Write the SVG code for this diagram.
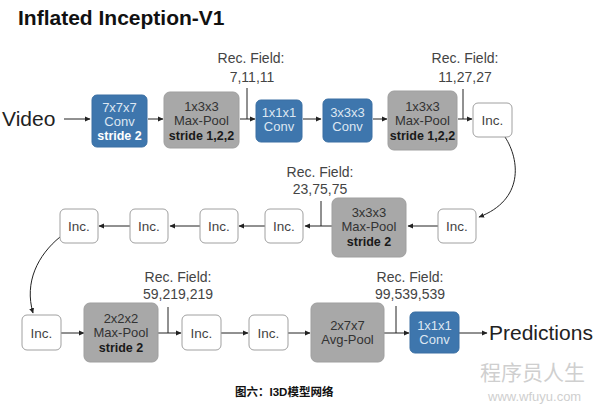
<svg xmlns="http://www.w3.org/2000/svg" width="600" height="407" viewBox="0 0 600 407">
<defs>
<marker id="ah" markerWidth="6" markerHeight="6" refX="5" refY="3" orient="auto" markerUnits="userSpaceOnUse">
<path d="M0,0.5 L5.5,3 L0,5.5 Z" fill="#222"/>
</marker>
<style>
text{font-family:"Liberation Sans",Arial,sans-serif}
.blue{fill:#3e76ad;stroke:#3a6fa3;stroke-width:1}
.gray{fill:#a8a8a8;stroke:#9f9f9f;stroke-width:1}
.inc{fill:#fff;stroke:#a0a0a0;stroke-width:1}
.bt{fill:#dde7f2;font-size:13px;text-anchor:middle}
.bb{fill:#fff;font-size:12.5px;font-weight:bold;text-anchor:middle}
.gt{fill:#333;font-size:13px;text-anchor:middle}
.gb{fill:#1a1a1a;font-size:12.5px;font-weight:bold;text-anchor:middle}
.it{fill:#444;font-size:13.5px;text-anchor:middle}
.rf{fill:#444;font-size:14px;text-anchor:middle}
.ln{fill:none;stroke:#222;stroke-width:1}
.big{fill:#222;font-size:21px}
</style>
</defs>
<rect width="600" height="407" fill="#fff"/>
<text x="18" y="25" font-size="21" font-weight="bold" fill="#111" style="font-family:'Liberation Sans',Arial,sans-serif">Inflated Inception-V1</text>

<text class="big" x="2" y="126">Video</text>
<text class="big" x="489" y="340">Predictions</text>

<g id="connectors">
<line class="ln" x1="64" y1="119" x2="90" y2="119" marker-end="url(#ah)"/>
<line class="ln" x1="148" y1="119" x2="163" y2="119" marker-end="url(#ah)"/>
<line class="ln" x1="240" y1="119" x2="255" y2="119" marker-end="url(#ah)"/>
<line class="ln" x1="247" y1="88" x2="247" y2="119"/>
<line class="ln" x1="303" y1="119" x2="321" y2="119" marker-end="url(#ah)"/>
<line class="ln" x1="373" y1="119" x2="387" y2="119" marker-end="url(#ah)"/>
<line class="ln" x1="458" y1="119" x2="472" y2="119" marker-end="url(#ah)"/>
<line class="ln" x1="463" y1="89" x2="463" y2="119"/>
<path class="ln" d="M505,137 C520,160 524,200 479,217" marker-end="url(#ah)"/>
<line class="ln" x1="438" y1="226" x2="408" y2="226" marker-end="url(#ah)"/>
<line class="ln" x1="332" y1="226" x2="305" y2="226" marker-end="url(#ah)"/>
<line class="ln" x1="321" y1="201" x2="321" y2="226"/>
<line class="ln" x1="265" y1="226" x2="239" y2="226" marker-end="url(#ah)"/>
<line class="ln" x1="200" y1="226" x2="170" y2="226" marker-end="url(#ah)"/>
<line class="ln" x1="130" y1="226" x2="99" y2="226" marker-end="url(#ah)"/>
<path class="ln" d="M60,237 C38,255 24,282 33,313" marker-end="url(#ah)"/>
<line class="ln" x1="61" y1="333" x2="84" y2="333" marker-end="url(#ah)"/>
<line class="ln" x1="158" y1="333" x2="181" y2="333" marker-end="url(#ah)"/>
<line class="ln" x1="168" y1="307" x2="168" y2="333"/>
<line class="ln" x1="221" y1="333" x2="248" y2="333" marker-end="url(#ah)"/>
<line class="ln" x1="288" y1="333" x2="310" y2="333" marker-end="url(#ah)"/>
<line class="ln" x1="384" y1="333" x2="409" y2="333" marker-end="url(#ah)"/>
<line class="ln" x1="396" y1="306" x2="396" y2="333"/>
<line class="ln" x1="459" y1="333" x2="487" y2="333" marker-end="url(#ah)"/>
</g>

<g id="rf1"><text class="rf" x="251" y="63">Rec. Field:</text><text class="rf" x="252" y="82">7,11,11</text></g>
<g id="rf2"><text class="rf" x="465" y="63">Rec. Field:</text><text class="rf" x="465" y="82">11,27,27</text></g>
<g id="rf3"><text class="rf" x="320" y="177">Rec. Field:</text><text class="rf" x="320" y="194">23,75,75</text></g>
<g id="rf4"><text class="rf" x="178" y="282">Rec. Field:</text><text class="rf" x="178" y="299">59,219,219</text></g>
<g id="rf5"><text class="rf" x="410" y="282">Rec. Field:</text><text class="rf" x="410" y="299">99,539,539</text></g>

<g id="conv7"><rect class="blue" x="92" y="95" width="55" height="52" rx="5"/>
<text class="bt" x="119.5" y="112">7x7x7</text><text class="bt" x="119.5" y="125.5">Conv</text><text class="bb" x="119.5" y="139.5">stride 2</text></g>
<g id="pool1"><rect class="gray" x="164" y="92" width="75" height="56" rx="6"/>
<text class="gt" x="201.5" y="111">1x3x3</text><text class="gt" x="201.5" y="125">Max-Pool</text><text class="gb" x="201.5" y="139.5">stride 1,2,2</text></g>
<g id="conv1"><rect class="blue" x="256" y="100" width="46" height="42" rx="5"/>
<text class="bt" x="279" y="117">1x1x1</text><text class="bt" x="279" y="131">Conv</text></g>
<g id="conv3"><rect class="blue" x="323" y="99" width="49" height="43" rx="5"/>
<text class="bt" x="347.5" y="117">3x3x3</text><text class="bt" x="347.5" y="131">Conv</text></g>
<g id="pool2"><rect class="gray" x="388" y="91" width="69" height="59" rx="6"/>
<text class="gt" x="422.5" y="111">1x3x3</text><text class="gt" x="422.5" y="125">Max-Pool</text><text class="gb" x="422.5" y="140">stride 1,2,2</text></g>
<g id="inc1"><rect class="inc" x="473" y="103" width="39" height="34" rx="5"/><text class="it" x="492.5" y="125">Inc.</text></g>

<g id="inc2"><rect class="inc" x="438" y="209" width="38" height="34" rx="5"/><text class="it" x="457" y="231">Inc.</text></g>
<g id="pool3"><rect class="gray" x="332" y="198" width="74" height="59" rx="6"/>
<text class="gt" x="369" y="217">3x3x3</text><text class="gt" x="369" y="231">Max-Pool</text><text class="gb" x="369" y="246">stride 2</text></g>
<g id="inc3"><rect class="inc" x="265" y="209" width="38" height="34" rx="5"/><text class="it" x="284" y="231">Inc.</text></g>
<g id="inc4"><rect class="inc" x="200" y="209" width="38" height="34" rx="5"/><text class="it" x="219" y="231">Inc.</text></g>
<g id="inc5"><rect class="inc" x="130" y="209" width="38" height="34" rx="5"/><text class="it" x="149" y="231">Inc.</text></g>
<g id="inc6"><rect class="inc" x="60" y="209" width="38" height="34" rx="5"/><text class="it" x="79" y="231">Inc.</text></g>

<g id="inc7"><rect class="inc" x="22" y="315" width="39" height="35" rx="5"/><text class="it" x="41.5" y="338">Inc.</text></g>
<g id="pool4"><rect class="gray" x="84" y="303" width="74" height="59" rx="6"/>
<text class="gt" x="121" y="323">2x2x2</text><text class="gt" x="121" y="337">Max-Pool</text><text class="gb" x="121" y="352">stride 2</text></g>
<g id="inc8"><rect class="inc" x="182" y="315" width="39" height="35" rx="5"/><text class="it" x="201.5" y="338">Inc.</text></g>
<g id="inc9"><rect class="inc" x="249" y="315" width="39" height="35" rx="5"/><text class="it" x="268.5" y="338">Inc.</text></g>
<g id="avgpool"><rect class="gray" x="311" y="303" width="73" height="59" rx="6"/>
<text class="gt" x="347.5" y="330">2x7x7</text><text class="gt" x="347.5" y="344">Avg-Pool</text></g>
<g id="conv1b"><rect class="blue" x="410" y="312" width="49" height="41" rx="5"/>
<text class="bt" x="434.5" y="330">1x1x1</text><text class="bt" x="434.5" y="344">Conv</text></g>

<text x="235" y="396" font-size="11.5" font-weight="bold" fill="#111" style="font-family:'Liberation Sans','Noto Sans CJK SC',sans-serif">图六：I3D模型网络</text>
<text x="480" y="380" font-size="21" fill="#cfcfcf" style="font-family:'Noto Sans CJK SC',sans-serif">程序员人生</text>
<text x="488" y="401" font-size="13" fill="#cfcfcf">www.wfuyu.com</text>
</svg>
